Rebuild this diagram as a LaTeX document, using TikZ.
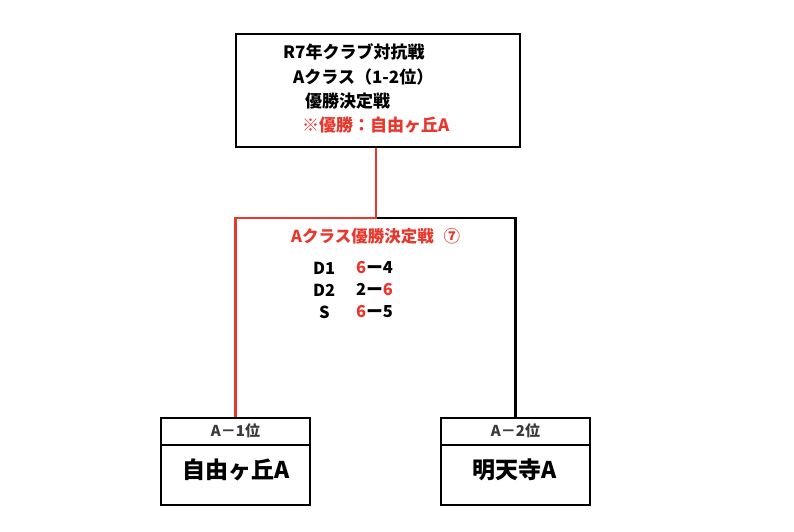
\documentclass[tikz,border=0pt]{standalone}
\usepackage{fontspec}
\newfontfamily\jp{Noto Sans CJK JP}
\definecolor{myred}{HTML}{E8372C}
\definecolor{hdr}{HTML}{3A3A3A}
\begin{document}
\begin{tikzpicture}[x=1pt,y=-1pt,
  box/.style={draw=black,line width=2.8pt,inner sep=0pt},
  conn/.style={line width=2.4pt},
  txt/.style={font=\jp\bfseries\fontsize{17}{20}\selectfont,inner sep=0pt,anchor=west},
  sc/.style={font=\jp\bfseries\fontsize{16.5}{19}\selectfont,inner sep=0pt,anchor=west},
  hd/.style={font=\jp\bfseries\fontsize{15}{18}\selectfont,text=hdr,inner sep=0pt},
  nm/.style={font=\jp\bfseries\fontsize{23}{26}\selectfont,inner sep=0pt}]
\useasboundingbox (0,0) rectangle (794,531);
% top box
\node[box,minimum width=284pt,minimum height=113pt] (top) at (378,90.5) {};
\node[txt] (t1) at (283,52) {R7年クラブ対抗戦};
\node[txt] (t2) at (293,77) {Aクラス（1-2位）};
\node[txt] (t3) at (305,101) {優勝決定戦};
\node[txt,text=myred] (t4) at (302,125) {※優勝：自由ヶ丘A};
% bottom boxes
\node[box,minimum width=149pt,minimum height=27pt] (lh) at (235.5,431.5) {};
\node[box,minimum width=149pt,minimum height=60pt] (lb) at (235.5,475) {};
\node[box,minimum width=149pt,minimum height=27pt] (rh) at (515.5,431.5) {};
\node[box,minimum width=149pt,minimum height=60pt] (rb) at (515.5,475) {};
\node[hd] (lht) at (235.5,431) {A－1位};
\node[hd] (rht) at (515.5,431) {A－2位};
\node[nm] (lbt) at (236,470) {自由ヶ丘A};
\node[nm] (rbt) at (515,470) {明天寺A};
% connectors
\coordinate (j) at (376,218);
\draw[conn,black] (j) -| (rh.north);
\draw[conn,myred] (top.south -| j) -- (j) -| (lh.north);
% middle texts
\node[sc,text=myred] (m0) at (291,236) {Aクラス優勝決定戦\hspace{0.6em}⑦};
\node[sc] (d1a) at (313,268) {D1};
\node[sc] (d1b) at (356,268) {\textcolor{myred}{6}ー4};
\node[sc] (d2a) at (313,290) {D2};
\node[sc] (d2b) at (356,290) {2ー\textcolor{myred}{6}};
\node[sc] (sa) at (319,312) {S};
\node[sc] (sb) at (356,312) {\textcolor{myred}{6}ー5};
\end{tikzpicture}
\end{document}
